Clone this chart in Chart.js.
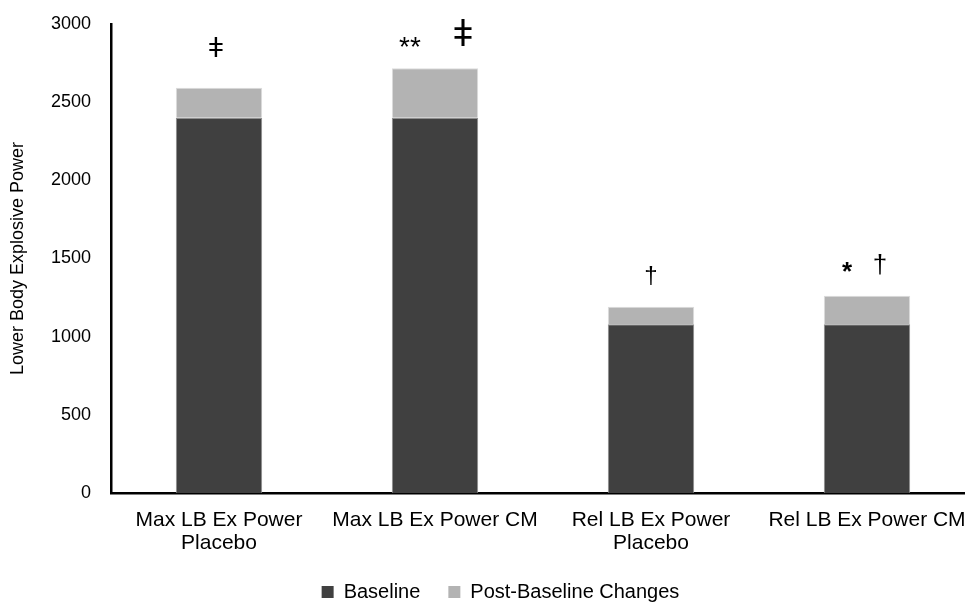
<!DOCTYPE html>
<html>
<head>
<meta charset="utf-8">
<script src="https://cdn.jsdelivr.net/npm/chart.js@4.4.0/dist/chart.umd.min.js"></script>
<style>
  html, body { margin: 0; padding: 0; background: #fff; overflow: hidden; }
  #caixa { position: absolute; left: 0; top: 0; }
</style>
</head>
<body>
<div id="caixa"><canvas id="grafico" width="985" height="612"></canvas></div>
<script>
// dados
const categorias = [['Max LB Ex Power', 'Placebo'], 'Max LB Ex Power CM', ['Rel LB Ex Power', 'Placebo'], 'Rel LB Ex Power CM'];
const baseline = [2400, 2400, 1080, 1080];
const mudancas = [193, 317, 112, 181];
const simbolos = [['ǂ'], ['**', 'ǂ'], ['†'], ['*', '†']];
const nomesSeries = ['Baseline', 'Post-Baseline Changes'];
const ticksY = [0, 500, 1000, 1500, 2000, 2500, 3000];

// posicao/tamanho de cada simbolo (desvio x do centro da barra, distancia acima do topo)
const estiloSimbolos = [
  [{ dx: -3, acima: 38, fonte: '28px "Liberation Sans"' }],
  [{ dx: -25, acima: 20, fonte: '28px "Liberation Sans"' }, { dx: 28, acima: 32, fonte: '36px "Liberation Sans"' }],
  [{ dx: 0, acima: 30, fonte: '24px "Liberation Sans"' }],
  [{ dx: -20, acima: 23, fonte: 'bold 26px "Liberation Sans"' }, { dx: 13, acima: 30, fonte: '26px "Liberation Sans"' }]
];

const pluginSimbolos = {
  id: 'simbolos',
  afterDatasetsDraw(chart) {
    const ctx = chart.ctx;
    const x = chart.scales.x;
    const y = chart.scales.y;
    ctx.save();
    ctx.fillStyle = '#000';
    ctx.textAlign = 'center';
    ctx.textBaseline = 'middle';
    simbolos.forEach((lista, i) => {
      const cx = x.getPixelForValue(i);
      const topo = y.getPixelForValue(baseline[i] + mudancas[i]);
      lista.forEach((s, j) => {
        const est = estiloSimbolos[i][j];
        ctx.font = est.fonte;
        ctx.fillText(s, cx + est.dx, topo - est.acima);
      });
    });
    ctx.restore();
  }
};

new Chart(document.getElementById('grafico'), {
  type: 'bar',
  data: {
    labels: categorias,
    datasets: [
      { label: nomesSeries[0], data: baseline, backgroundColor: '#404040', borderColor: '#8c8c8c', borderWidth: 1 },
      { label: nomesSeries[1], data: mudancas, backgroundColor: '#b3b3b3', borderColor: '#dcdcdc', borderWidth: 1 }
    ]
  },
  options: {
    responsive: false,
    animation: false,
    layout: { padding: { top: 24, right: 10, left: 26, bottom: 0 } },
    datasets: { bar: { barPercentage: 0.4, categoryPercentage: 1 } },
    plugins: {
      tooltip: { enabled: false },
      legend: {
        position: 'bottom',
        labels: {
          boxWidth: 12, boxHeight: 12, padding: 28, color: '#000',
          font: { family: '"Liberation Sans", Arial', size: 20 },
          generateLabels(chart) {
            return chart.data.datasets.map((ds, i) => ({
              text: ds.label, fillStyle: ds.backgroundColor, strokeStyle: ds.backgroundColor,
              lineWidth: 0, hidden: false, datasetIndex: i
            }));
          }
        }
      }
    },
    scales: {
      x: {
        stacked: true,
        grid: { display: false, drawTicks: false },
        border: { display: true, color: '#000', width: 2.5 },
        ticks: {
          color: '#000', padding: 16, maxRotation: 0, autoSkip: false,
          font: { family: '"Liberation Sans", Arial', size: 21, lineHeight: 1.1 }
        },
        afterFit(scale) { scale.height = 61; }
      },
      y: {
        stacked: true,
        min: 0, max: 3000,
        grid: { display: false, drawTicks: false },
        border: { display: true, color: '#000', width: 2.5 },
        afterBuildTicks(scale) { scale.ticks = ticksY.map(v => ({ value: v })); },
        ticks: {
          color: '#000', padding: 20,
          callback: v => String(v),
          font: { family: '"Liberation Sans", Arial', size: 18 }
        },
        title: {
          display: true, text: 'Lower Body Explosive Power', color: '#000',
          padding: { top: -19, bottom: 0 },
          font: { family: '"Liberation Sans", Arial', size: 18 }
        },
        afterFit(scale) {
          scale.width = 85;
          scale.paddingTop = 0;
          scale.paddingBottom = 0;
        }
      }
    }
  },
  plugins: [pluginSimbolos]
});
</script>
</body>
</html>
